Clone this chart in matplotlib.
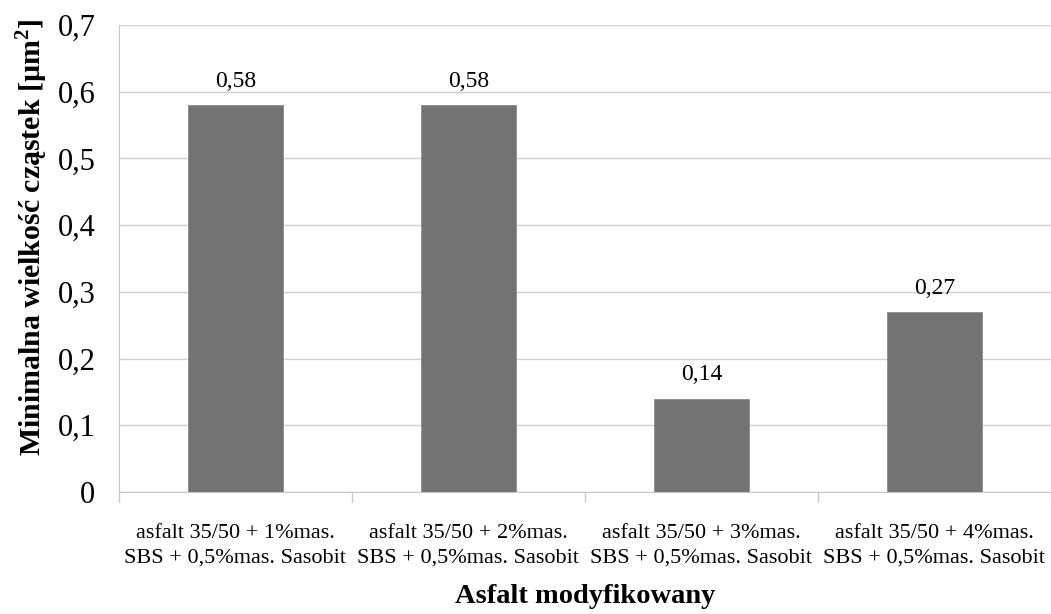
import matplotlib
matplotlib.use("Agg")
import matplotlib.pyplot as plt
import numpy as np

plt.rcParams['font.family'] = ['Liberation Serif', 'DejaVu Serif']
plt.rcParams['mathtext.fontset'] = 'custom'
plt.rcParams['mathtext.rm'] = 'Liberation Serif'
plt.rcParams['mathtext.bf'] = 'Liberation Serif:bold'

# Data
categories = ['asfalt 35/50 + 1%mas.\nSBS + 0,5%mas. Sasobit',
              'asfalt 35/50 + 2%mas.\nSBS + 0,5%mas. Sasobit',
              'asfalt 35/50 + 3%mas.\nSBS + 0,5%mas. Sasobit',
              'asfalt 35/50 + 4%mas.\nSBS + 0,5%mas. Sasobit']
values = [0.58, 0.58, 0.14, 0.27]
yticks = [0, 0.1, 0.2, 0.3, 0.4, 0.5, 0.6, 0.7]

fig = plt.figure(figsize=(10.51, 6.14), dpi=100)
ax = fig.add_axes([0.1132, 0.1987, 0.8868, 0.7606])

x = np.arange(len(values))
ax.bar(x, values, width=0.41, color='#737373', edgecolor='#8c8c8c', linewidth=0.6, zorder=3)

for xi, v in zip(x, values):
    ax.text(xi, v + 0.02, f'{v:.2f}'.replace('.', ','), ha='center', va='bottom', fontsize=17)

ax.set_xlim(-0.5, len(values) - 0.5)
ax.set_ylim(0, 0.7)
ax.set_yticks(yticks)
ax.set_yticklabels(['0' if t == 0 else f'{t:.1f}'.replace('.', ',') for t in yticks], fontsize=22)
ax.yaxis.grid(True, color='#d0d0d0', linewidth=1, zorder=0)
ax.tick_params(axis='y', length=0, pad=17)

ax.set_xticks(x)
ax.set_xticklabels(categories, fontsize=16, linespacing=1.4)
ax.set_xticks(np.arange(len(values) + 1) - 0.5, minor=True)
ax.tick_params(axis='x', which='major', length=0, pad=23)
ax.tick_params(axis='x', which='minor', length=7, color='#c8c8c8', width=1)

for s in ['top', 'right']:
    ax.spines[s].set_visible(False)
ax.spines['left'].set_color('#c8c8c8')
ax.spines['bottom'].set_color('#c8c8c8')

ax.set_ylabel(r'Minimalna wielkość cząstek [µm$^\mathbf{2}$]', fontsize=21.5, fontweight='bold')
ax.yaxis.set_label_coords(-0.074, 0.545)
ax.set_xlabel('Asfalt modyfikowany', fontsize=20.5, fontweight='bold')
ax.xaxis.set_label_coords(0.5, -0.198)

fig.savefig('out.png', dpi=100)
